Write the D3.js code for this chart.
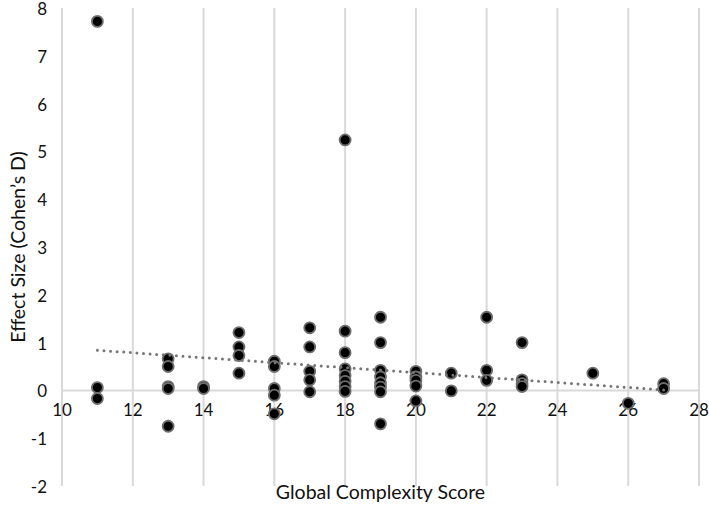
<!DOCTYPE html>
<html>
<head>
<meta charset="utf-8">
<script src="https://cdn.jsdelivr.net/npm/d3@7"></script>
<style>
  html, body { margin: 0; padding: 0; background: #fff; }
  svg { display: block; font-family: Lato, "Open Sans", sans-serif; }
</style>
</head>
<body>
<svg id="chart" width="709" height="515"></svg>
<script>
// Global complexity score (x) vs effect size (y)
const scoreX = [11, 11, 11,
  13, 13, 13, 13, 13,
  14, 14,
  15, 15, 15, 15,
  16, 16, 16, 16, 16,
  17, 17, 17, 17, 17,
  18, 18, 18, 18, 18, 18, 18, 18,
  19, 19, 19, 19, 19, 19, 19, 19,
  20, 20, 20, 20, 20,
  21, 21,
  22, 22, 22,
  23, 23, 23, 23,
  25, 26, 27, 27];
const effectY = [7.72, 0.06, -0.17,
  0.66, 0.50, 0.08, 0.04, -0.75,
  0.08, 0.04,
  1.21, 0.91, 0.73, 0.36,
  0.61, 0.50, 0.04, -0.10, -0.49,
  1.31, 0.91, 0.40, 0.22, -0.03,
  5.24, 1.24, 0.79, 0.45, 0.31, 0.19, 0.08, -0.02,
  1.53, 1.00, 0.42, 0.28, 0.16, 0.07, -0.03, -0.70,
  0.40, 0.28, 0.21, 0.09, -0.22,
  0.36, -0.01,
  1.53, 0.42, 0.21,
  1.00, 0.22, 0.14, 0.08,
  0.36, -0.27, 0.14, 0.04];
const trendX = [11, 27];
const trendY = [0.84, 0.01];
const xTicks = [10, 12, 14, 16, 18, 20, 22, 24, 26, 28];
const yTicks = [-2, -1, 0, 1, 2, 3, 4, 5, 6, 7, 8];

const svg = d3.select('#chart');
const x = d3.scaleLinear().domain([10, 28]).range([62, 699]);
const y = d3.scaleLinear().domain([-2, 8]).range([486, 8]);

const pts = scoreX.map((v, i) => ({ x: v, y: effectY[i] }));

// vertical gridlines
svg.append('g').selectAll('line').data(xTicks).join('line')
  .attr('x1', d => x(d)).attr('x2', d => x(d))
  .attr('y1', y(8)).attr('y2', y(-2))
  .attr('stroke', '#d9d9d9').attr('stroke-width', 2);

// horizontal axis at zero
svg.append('line')
  .attr('x1', x(10)).attr('x2', x(28))
  .attr('y1', y(0)).attr('y2', y(0))
  .attr('stroke', '#d9d9d9').attr('stroke-width', 2);

// tick labels
svg.append('g').selectAll('text').data(yTicks).join('text')
  .attr('x', 47).attr('y', d => y(d) + 1).attr('dy', '0.35em')
  .attr('text-anchor', 'end').attr('font-size', 17).attr('fill', '#111')
  .text(d => d);
svg.append('g').selectAll('text').data(xTicks).join('text')
  .attr('x', d => x(d)).attr('y', y(0) + 26)
  .attr('text-anchor', 'middle').attr('font-size', 17).attr('fill', '#111')
  .text(d => d);

// points
svg.append('g').selectAll('circle').data(pts).join('circle')
  .attr('cx', d => x(d.x)).attr('cy', d => y(d.y)).attr('r', 5.5)
  .attr('fill', '#000').attr('stroke', '#6e6e6e').attr('stroke-width', 1.8);

// dotted trendline
svg.append('path')
  .datum(trendX.map((v, i) => [v, trendY[i]]))
  .attr('d', d3.line().x(d => x(d[0])).y(d => y(d[1])))
  .attr('fill', 'none')
  .attr('stroke', '#767676').attr('stroke-width', 3)
  .attr('stroke-dasharray', '0 6.6').attr('stroke-linecap', 'round');

// axis titles
svg.append('text').attr('x', x(19)).attr('y', 499)
  .attr('text-anchor', 'middle').attr('font-size', 19.5).attr('fill', '#111')
  .text('Global Complexity Score');
svg.append('text')
  .attr('transform', `translate(18,${y(3)}) rotate(-90)`)
  .attr('dy', '0.35em')
  .attr('text-anchor', 'middle').attr('font-size', 19.5).attr('fill', '#111')
  .text('Effect Size (Cohen\u2019s D)');
</script>
</body>
</html>
